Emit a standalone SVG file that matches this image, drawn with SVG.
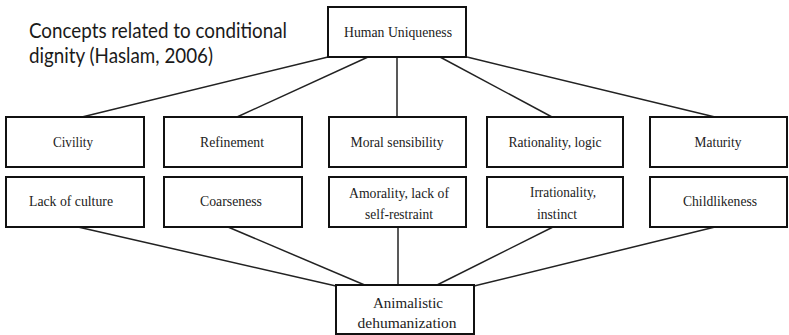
<svg xmlns="http://www.w3.org/2000/svg" width="789" height="335" viewBox="0 0 789 335">
  <style>
    .box { fill: #ffffff; stroke: #111111; stroke-width: 2; }
    .lbl { font-family: 'Liberation Serif', 'DejaVu Serif', serif; font-size: 15px; fill: #222222; text-anchor: middle; }
    .title { font-family: Lato, 'Open Sans', sans-serif; font-size: 21px; fill: #1a1a1a; }
    .conn { stroke: #222222; stroke-width: 1.5; fill: none; }
  </style>
  <rect width="789" height="335" fill="#ffffff"/>

  <!-- heading -->
  <g id="title">
    <text class="title" x="29" y="38" textLength="258" lengthAdjust="spacingAndGlyphs">Concepts related to conditional</text>
    <text class="title" x="29" y="63" textLength="184" lengthAdjust="spacingAndGlyphs">dignity (Haslam, 2006)</text>
  </g>

  <!-- connectors -->
  <g id="connectors">
    <line class="conn" x1="328" y1="57" x2="82" y2="117"/>
    <line class="conn" x1="368" y1="57" x2="237" y2="117"/>
    <line class="conn" x1="397" y1="57" x2="397" y2="117"/>
    <line class="conn" x1="440" y1="57" x2="552" y2="117"/>
    <line class="conn" x1="467" y1="57" x2="715" y2="117"/>
    <line class="conn" x1="78" y1="227" x2="336" y2="286"/>
    <line class="conn" x1="228" y1="227" x2="367" y2="286"/>
    <line class="conn" x1="398" y1="227" x2="398" y2="286"/>
    <line class="conn" x1="553" y1="227" x2="435" y2="286"/>
    <line class="conn" x1="715" y1="227" x2="474" y2="286"/>
  </g>

  <g id="human-uniqueness">
    <rect class="box" x="328" y="7" width="138" height="50"/>
    <text class="lbl" x="398" y="37" textLength="108" lengthAdjust="spacingAndGlyphs">Human Uniqueness</text>
  </g>

  <g id="civility">
    <rect class="box" x="6" y="117" width="138" height="50"/>
    <text class="lbl" x="73" y="147" textLength="40" lengthAdjust="spacingAndGlyphs">Civility</text>
  </g>
  <g id="refinement">
    <rect class="box" x="164" y="117" width="138" height="50"/>
    <text class="lbl" x="232" y="147" textLength="64" lengthAdjust="spacingAndGlyphs">Refinement</text>
  </g>
  <g id="moral-sensibility">
    <rect class="box" x="329" y="117" width="137" height="50"/>
    <text class="lbl" x="397" y="147" textLength="93" lengthAdjust="spacingAndGlyphs">Moral sensibility</text>
  </g>
  <g id="rationality">
    <rect class="box" x="487" y="117" width="136" height="50"/>
    <text class="lbl" x="555" y="147" textLength="93" lengthAdjust="spacingAndGlyphs">Rationality, logic</text>
  </g>
  <g id="maturity">
    <rect class="box" x="650" y="117" width="137" height="50"/>
    <text class="lbl" x="718" y="147" textLength="47" lengthAdjust="spacingAndGlyphs">Maturity</text>
  </g>

  <g id="lack-of-culture">
    <rect class="box" x="6" y="177" width="138" height="50"/>
    <text class="lbl" x="71" y="206" textLength="84" lengthAdjust="spacingAndGlyphs">Lack of culture</text>
  </g>
  <g id="coarseness">
    <rect class="box" x="164" y="177" width="138" height="50"/>
    <text class="lbl" x="231" y="206" textLength="62" lengthAdjust="spacingAndGlyphs">Coarseness</text>
  </g>
  <g id="amorality">
    <rect class="box" x="329" y="177" width="137" height="50"/>
    <text class="lbl" x="399" y="198" textLength="100" lengthAdjust="spacingAndGlyphs">Amorality, lack of</text>
    <text class="lbl" x="399" y="219" textLength="68" lengthAdjust="spacingAndGlyphs">self-restraint</text>
  </g>
  <g id="irrationality">
    <rect class="box" x="487" y="177" width="136" height="50"/>
    <text class="lbl" x="563" y="197" textLength="66" lengthAdjust="spacingAndGlyphs">Irrationality,</text>
    <text class="lbl" x="557" y="219" textLength="40" lengthAdjust="spacingAndGlyphs">instinct</text>
  </g>
  <g id="childlikeness">
    <rect class="box" x="650" y="177" width="137" height="50"/>
    <text class="lbl" x="720" y="206" textLength="74" lengthAdjust="spacingAndGlyphs">Childlikeness</text>
  </g>

  <g id="animalistic-dehumanization">
    <rect class="box" x="336" y="285" width="138" height="49"/>
    <text class="lbl" x="408" y="308" textLength="70" lengthAdjust="spacingAndGlyphs">Animalistic</text>
    <text class="lbl" x="407" y="328" textLength="99" lengthAdjust="spacingAndGlyphs">dehumanization</text>
  </g>
</svg>
